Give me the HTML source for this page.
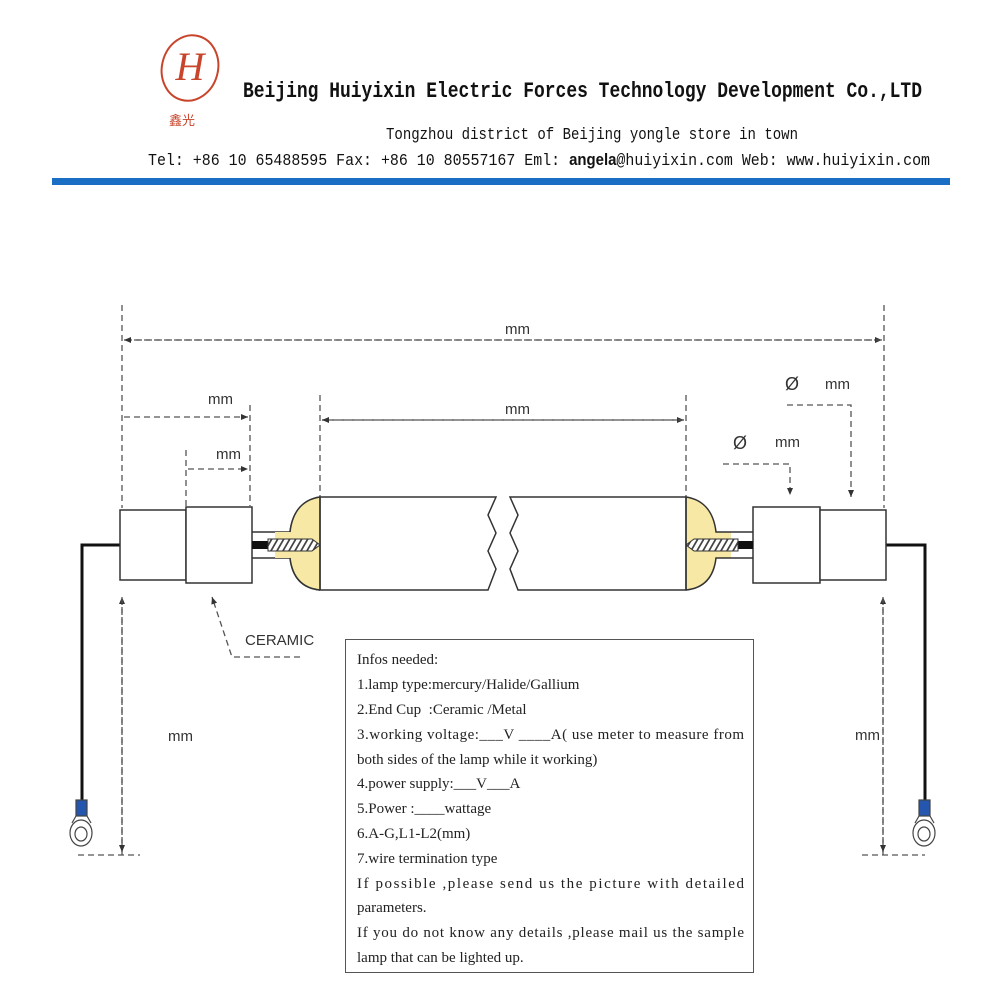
<!DOCTYPE html>
<html><head><meta charset="utf-8"><style>
html,body{margin:0;padding:0;background:#fff;}
svg{display:block;}
.s{font-family:"Liberation Sans",sans-serif;font-size:15px;fill:#333;}
.t{font-family:"Liberation Serif",serif;font-size:15px;fill:#222;}
</style></head><body>
<svg width="1000" height="1000" viewBox="0 0 1000 1000" xmlns="http://www.w3.org/2000/svg">
<defs>
<marker id="a" markerWidth="8" markerHeight="8" refX="7" refY="4" orient="auto" markerUnits="userSpaceOnUse"><path d="M0,1 L7,4 L0,7 z" fill="#333"/></marker>
<pattern id="h" width="6" height="10" patternUnits="userSpaceOnUse" patternTransform="skewX(-30)"><rect width="6" height="10" fill="#fff"/><rect width="2" height="10" fill="#444"/></pattern>
</defs>
<!-- header -->
<ellipse cx="190" cy="68" rx="28" ry="33" fill="none" stroke="#c8452c" stroke-width="2" transform="rotate(15 190 68)"/>
<text x="190" y="80" font-family="Liberation Serif,serif" font-style="italic" font-size="40" fill="#c8452c" text-anchor="middle">H</text>
<text x="182" y="125" font-family="Liberation Sans,'Noto Sans CJK SC',sans-serif" font-size="13" fill="#c8452c" text-anchor="middle">鑫光</text>
<text x="243" y="97" font-family="Liberation Mono,monospace" font-weight="bold" font-size="22" fill="#111" textLength="679" lengthAdjust="spacingAndGlyphs">Beijing Huiyixin Electric Forces Technology Development Co.,LTD</text>
<text x="386" y="139" font-family="Liberation Mono,monospace" font-size="17" fill="#111" textLength="412" lengthAdjust="spacingAndGlyphs">Tongzhou district of Beijing yongle store in town</text>
<text x="148" y="165" font-family="Liberation Mono,monospace" font-size="17" fill="#111" textLength="782" lengthAdjust="spacingAndGlyphs">Tel: +86 10 65488595 Fax: +86 10 80557167 Eml: <tspan font-family="Liberation Sans,sans-serif" font-weight="bold">angela</tspan>@huiyixin.com Web: www.huiyixin.com</text>
<rect x="52" y="178" width="898" height="7" fill="#1a6fc4"/>

<g stroke="#555" stroke-width="1.3" fill="none" stroke-dasharray="6,4">
<line x1="122" y1="305" x2="122" y2="508"/><line x1="884" y1="305" x2="884" y2="508"/>
<line x1="124" y1="340" x2="882" y2="340" marker-end="url(#a)"/>
<line x1="882" y1="340" x2="124" y2="340" marker-end="url(#a)"/>
<line x1="250" y1="405" x2="250" y2="506"/>
<line x1="124" y1="417" x2="248" y2="417" marker-end="url(#a)"/>
<line x1="186" y1="450" x2="186" y2="508"/>
<line x1="188" y1="469" x2="248" y2="469" marker-end="url(#a)"/>
<line x1="320" y1="395" x2="320" y2="497"/><line x1="686" y1="395" x2="686" y2="497"/>
<line x1="322" y1="420" x2="684" y2="420" marker-end="url(#a)"/>
<line x1="684" y1="420" x2="322" y2="420" marker-end="url(#a)"/>
<line x1="547" y1="500" x2="547" y2="588" marker-end="url(#a)"/>
<line x1="547" y1="588" x2="547" y2="500" marker-end="url(#a)"/>
<polyline points="787,405 851,405 851,497" marker-end="url(#a)"/>
<polyline points="723,464 790,464 790,495" marker-end="url(#a)"/>
<line x1="122" y1="855" x2="122" y2="597" marker-end="url(#a)"/>
<line x1="122" y1="597" x2="122" y2="852" marker-end="url(#a)"/>
<line x1="78" y1="855" x2="140" y2="855"/>
<line x1="883" y1="855" x2="883" y2="597" marker-end="url(#a)"/>
<line x1="883" y1="597" x2="883" y2="852" marker-end="url(#a)"/>
<line x1="862" y1="855" x2="925" y2="855"/>
<polyline points="300,657 232,657 212,597" marker-end="url(#a)"/>
</g>
<g class="s">
<text x="505" y="334">mm</text>
<text x="208" y="404">mm</text>
<text x="216" y="459">mm</text>
<text x="505" y="414">mm</text>
<text x="555" y="550" font-size="18">Ø</text><text x="600" y="549">mm</text>
<text x="785" y="390" font-size="18">Ø</text><text x="825" y="389">mm</text>
<text x="733" y="449" font-size="18">Ø</text><text x="775" y="447">mm</text>
<text x="168" y="741">mm</text>
<text x="855" y="740">mm</text>
<text x="245" y="645">CERAMIC</text>
</g>

<polyline points="120,545 82,545 82,800" fill="none" stroke="#111" stroke-width="3"/>
<polyline points="886,545 925,545 925,800" fill="none" stroke="#111" stroke-width="3"/>
<g stroke="#444" stroke-width="1.2">
<rect x="76" y="800" width="11" height="16" fill="#2456b0"/>
<ellipse cx="81" cy="833" rx="11" ry="13" fill="#fff"/>
<path d="M76,816 L72,823 M87,816 L91,823" fill="none"/>
<ellipse cx="81" cy="834" rx="6" ry="7" fill="#fff"/>
<rect x="919" y="800" width="11" height="16" fill="#2456b0"/>
<ellipse cx="924" cy="833" rx="11" ry="13" fill="#fff"/>
<path d="M919,816 L915,823 M930,816 L934,823" fill="none"/>
<ellipse cx="924" cy="834" rx="6" ry="7" fill="#fff"/>
</g>

<g stroke="#333" stroke-width="1.5" fill="#fff">
<rect x="120" y="510" width="66" height="70"/>
<rect x="186" y="507" width="66" height="76"/>
<rect x="753" y="507" width="67" height="76"/>
<rect x="820" y="510" width="66" height="70"/>
<path d="M320,497 C300,500 292,515 290,532 L252,532 M252,558 L290,558 C292,575 300,588 320,590" fill="none"/>
<path d="M320,497 C300,500 292,515 290,532 L275,532 L275,558 L290,558 C292,575 300,588 320,590 z" fill="#f7e8a6" stroke="none"/>
<path d="M320,497 C300,500 292,515 290,532 M290,558 C292,575 300,588 320,590" fill="none"/>
<rect x="252" y="541" width="18" height="8" fill="#111" stroke="none"/>
<path d="M268,539 L312,539 L320,545 L312,551 L268,551 z" fill="url(#h)" stroke-width="1"/>
<path d="M686,497 C706,500 714,515 716,532 L731,532 L731,558 L716,558 C714,575 706,588 686,590 z" fill="#f7e8a6" stroke="none"/>
<path d="M686,497 C706,500 714,515 716,532 L753,532 M753,558 L716,558 C714,575 706,588 686,590" fill="none"/>
<rect x="736" y="541" width="17" height="8" fill="#111" stroke="none"/>
<path d="M738,539 L694,539 L686,545 L694,551 L738,551 z" fill="url(#h)" stroke-width="1"/>
<path d="M320,497 L496,497 L488,515 L496,533 L488,551 L496,569 L488,590 L320,590 z" fill="#fff"/>
<path d="M686,497 L510,497 L518,515 L510,533 L518,551 L510,569 L518,590 L686,590 z" fill="#fff"/>
<line x1="320" y1="497" x2="320" y2="590"/><line x1="686" y1="497" x2="686" y2="590"/>
</g>

<rect x="345.5" y="639.5" width="408" height="333" fill="#fff" stroke="#555" stroke-width="1"/>
<g class="t">
<text x="357" y="664">Infos needed:</text>
<text x="357" y="689">1.lamp type:mercury/Halide/Gallium</text>
<text x="357" y="714">2.End Cup&#160; :Ceramic /Metal</text>
<text x="357" y="739" textLength="387" lengthAdjust="spacing">3.working voltage:___V ____A( use meter to measure from</text>
<text x="357" y="764">both sides of the lamp while it working)</text>
<text x="357" y="788">4.power supply:___V___A</text>
<text x="357" y="813">5.Power :____wattage</text>
<text x="357" y="838">6.A-G,L1-L2(mm)</text>
<text x="357" y="863">7.wire termination type</text>
<text x="357" y="888" textLength="387" lengthAdjust="spacing">If possible ,please send us the picture with detailed</text>
<text x="357" y="912">parameters.</text>
<text x="357" y="937" textLength="387" lengthAdjust="spacing">If you do not know any details ,please mail us the sample</text>
<text x="357" y="962">lamp that can be lighted up.</text>
</g>
</svg>
</body></html>
